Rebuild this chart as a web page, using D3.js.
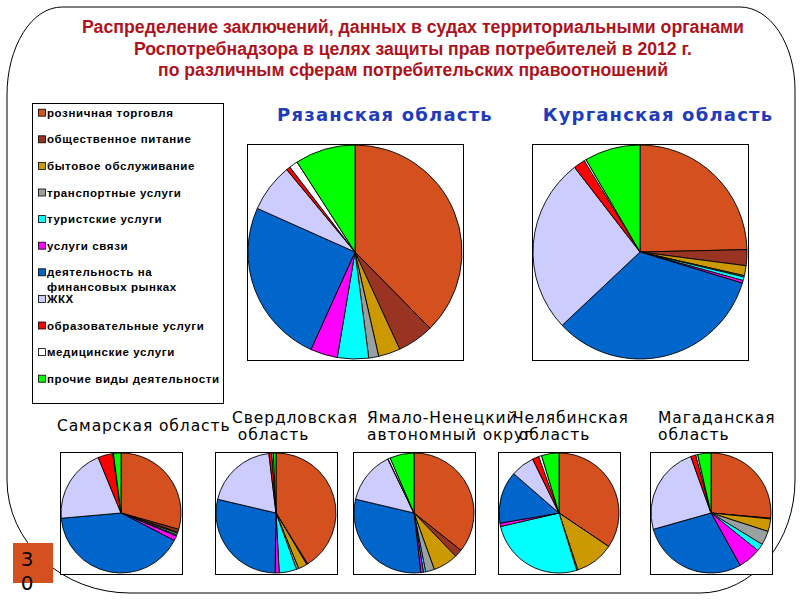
<!DOCTYPE html>
<html>
<head>
<meta charset="utf-8">
<script src="https://cdn.jsdelivr.net/npm/d3@7"></script>
<style>
  html, body { margin: 0; padding: 0; background: #fff; }
  svg { display: block; }
</style>
</head>
<body>
<svg id="chart" width="800" height="600"></svg>
<script>
// ---------- DATA ----------
const titleLines = [
  "Распределение заключений, данных в судах территориальными органами",
  "Роспотребнадзора в целях защиты прав потребителей в 2012 г.",
  "по различным сферам потребительских правоотношений"
];
const categories = [
  "розничная торговля",
  "общественное питание",
  "бытовое обслуживание",
  "транспортные услуги",
  "туристские услуги",
  "услуги связи",
  "деятельность на финансовых рынках",
  "ЖКХ",
  "образовательные услуги",
  "медицинские услуги",
  "прочие виды деятельности"
];
const regionNames = [
  "Рязанская область",
  "Курганская область",
  "Самарская область",
  "Свердловская область",
  "Ямало-Ненецкий автономный округ",
  "Челябинская область",
  "Магаданская область"
];
// shares (%) in category order
const ryazan      = [37.6, 5.5, 3.3, 1.5, 4.7, 4.1, 24.9, 7.3, 0.6, 1.3, 9.1];
const kurgan      = [24.6, 2.4, 1.5, 0.2, 0.55, 0.4, 33.2, 26.5, 1.75, 0.3, 8.4];
const samara      = [29.4, 0.8, 0.3, 0.5, 0.3, 1.3, 41.0, 20.2, 4.0, 0.2, 2.0];
const sverdlovsk  = [41.1, 0.3, 2.4, 0.6, 4.7, 1.1, 28.4, 19.4, 0.8, 0.4, 0.7];
const yamal       = [35.7, 2.1, 6.7, 2.4, 0.6, 0.7, 30.5, 14.1, 0.1, 0.6, 6.5];
const chelyabinsk = [34.5, 0.0, 10.5, 0.3, 26.2, 0.9, 14.1, 6.4, 1.75, 0.8, 4.7];
const magadan     = [26.5, 0.2, 3.4, 3.8, 2.0, 6.2, 28.8, 24.0, 1.4, 0.5, 3.6];
const slideNumber = "30";

// ---------- STYLE / LAYOUT ----------
const colors = ["#D4501E", "#993322", "#CC9900", "#9AA0A0", "#00FFFF", "#FF00FF",
                "#0066CC", "#CCCCFF", "#FF0000", "#FFFFFF", "#00FF00"];
const seriesList = [ryazan, kurgan, samara, sverdlovsk, yamal, chelyabinsk, magadan];
const pieLayout = [
  {cx: 355, cy: 252, r: 107, box: 108, big: true,  tx: 385, ty: 121, lines: ["Рязанская область"]},
  {cx: 640, cy: 252, r: 107, box: 108, big: true,  tx: 658, ty: 121, lines: ["Курганская область"]},
  {cx: 121, cy: 513, r: 60,  box: 61,  big: false, tx: 57,  ty: 431, lines: ["Самарская область"]},
  {cx: 276, cy: 513, r: 60,  box: 61,  big: false, tx: 232, ty: 423, lines: ["Свердловская", " область"]},
  {cx: 414, cy: 513, r: 60,  box: 61,  big: false, tx: 367, ty: 423, lines: ["Ямало-Ненецкий", "автономный округ"]},
  {cx: 559, cy: 513, r: 60,  box: 61,  big: false, tx: 513, ty: 423, lines: ["Челябинская", " область"]},
  {cx: 711, cy: 513, r: 60,  box: 61,  big: false, tx: 658, ty: 423, lines: ["Магаданская", "область"]}
];

const svg = d3.select("#chart");

// rounded frame
svg.append("path")
  .attr("d", "M 62,7 L 740,7 A 55 83 0 0 1 795,90 L 795,480 A 95 113 0 0 1 700,593 " +
             "L 130,593 A 123 113 0 0 1 7,480 L 7,95 A 55 88 0 0 1 62,7 Z")
  .attr("fill", "#fff").attr("stroke", "#000").attr("stroke-width", 1);

// title
const titleG = svg.append("g");
const titleWidths = [662, 558, 510];
titleG.selectAll("text").data(titleLines).join("text")
  .attr("x", 413)
  .attr("y", (d, i) => 33 + i * 21.5)
  .attr("text-anchor", "middle")
  .attr("textLength", (d, i) => titleWidths[i])
  .attr("lengthAdjust", "spacingAndGlyphs")
  .attr("font-family", "'Liberation Sans Narrow', 'Arial Narrow', 'Liberation Sans', sans-serif")
  .attr("font-weight", "bold")
  .attr("font-size", 17.5)
  .attr("fill", "#B0121C")
  .text(d => d);

// legend
const legend = svg.append("g");
legend.append("rect")
  .attr("x", 32.5).attr("y", 103.5).attr("width", 191).attr("height", 300)
  .attr("fill", "#fff").attr("stroke", "#000").attr("stroke-width", 1);
const legItems = legend.selectAll("g.item").data(categories).join("g").attr("class", "item")
  .attr("transform", (d, i) => `translate(0, ${112.7 + i * 26.6})`);
legItems.append("rect")
  .attr("x", 38.5).attr("y", -3.5).attr("width", 7).attr("height", 7)
  .attr("fill", (d, i) => colors[i]).attr("stroke", "#000").attr("stroke-width", 0.8);
legItems.append("text")
  .attr("x", 47).attr("y", 4)
  .attr("font-family", "'Liberation Sans', Arial, sans-serif")
  .attr("font-weight", "bold")
  .attr("font-size", 11.5)
  .attr("letter-spacing", 0.6)
  .attr("fill", "#000")
  .each(function(d) {
    const t = d3.select(this);
    if (d === "деятельность на финансовых рынках") {
      t.append("tspan").attr("x", 47).attr("dy", 0).text("деятельность на");
      t.append("tspan").attr("x", 47).attr("dy", 15).text("финансовых рынках");
    } else {
      t.text(d);
    }
  });

// pies
const pie = d3.pie().sort(null).value(d => d).startAngle(0).endAngle(2 * Math.PI);
seriesList.forEach((values, k) => {
  const L = pieLayout[k];
  const g = svg.append("g");
  g.append("rect")
    .attr("x", L.cx - L.box + 0.5).attr("y", L.cy - L.box + 0.5)
    .attr("width", 2 * L.box).attr("height", 2 * L.box)
    .attr("fill", "#fff").attr("stroke", "#000").attr("stroke-width", 1);
  const arc = d3.arc().innerRadius(0).outerRadius(L.r);
  g.append("g").attr("transform", `translate(${L.cx},${L.cy})`)
    .selectAll("path").data(pie(values)).join("path")
    .attr("d", arc)
    .attr("fill", (d, i) => colors[i])
    .attr("stroke", "#000").attr("stroke-width", 0.9).attr("stroke-linejoin", "round");
  const t = svg.append("text")
    .attr("font-family", "'DejaVu Sans', Verdana, sans-serif");
  if (L.big) {
    t.attr("x", L.tx).attr("y", L.ty).attr("text-anchor", "middle")
      .attr("font-weight", "bold").attr("font-size", 18).attr("letter-spacing", 1.2)
      .attr("fill", "#1F3CBF").text(regionNames[k]);
  } else {
    t.attr("font-size", 15.5).attr("letter-spacing", 0.9).attr("fill", "#000");
    L.lines.forEach((ln, j) => {
      t.append("tspan").attr("x", L.tx).attr("y", L.ty + j * 17).attr("xml:space", "preserve").text(ln);
    });
  }
});

// slide number
svg.append("rect").attr("x", 13).attr("y", 543).attr("width", 40).attr("height", 40).attr("fill", "#D4501E");
svg.append("g").selectAll("text").data(slideNumber.split("")).join("text")
  .attr("x", 27).attr("y", (d, i) => 566 + i * 24)
  .attr("text-anchor", "middle")
  .attr("font-family", "'DejaVu Sans', Verdana, sans-serif")
  .attr("font-size", 20).attr("fill", "#000")
  .text(d => d);
</script>
</body>
</html>
